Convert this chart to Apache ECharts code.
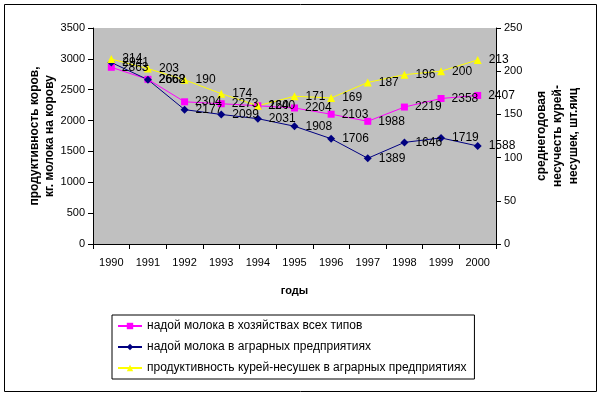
<!DOCTYPE html>
<html><head><meta charset="utf-8">
<script src="https://cdn.jsdelivr.net/npm/echarts@6/dist/echarts.min.js"></script>
<style>html,body{margin:0;padding:0;background:#fff}#c{width:601px;height:396px}</style>
</head><body><div id="c"></div>
<script>
const years = ['1990','1991','1992','1993','1994','1995','1996','1997','1998','1999','2000'];
const milkAll = [2863, 2668, 2304, 2273, 2240, 2204, 2103, 1988, 2219, 2358, 2407];
const milkAgro = [2941, 2662, 2177, 2099, 2031, 1908, 1706, 1389, 1646, 1719, 1588];
const eggs = [214, 203, 190, 174, 160, 171, 169, 187, 196, 200, 213];
const leftTicks = [0, 3500, 500];
const rightTicks = [0, 250, 50];
const names = ['надой молока в хозяйствах всех типов','надой молока в аграрных предприятиях','продуктивность курей-несушек в аграрных предприятиях'];

const F = 'Liberation Sans, Arial, sans-serif';
const chart = echarts.init(document.getElementById('c'));
const lbl = {show:true, position:'right', distance:7, color:'#000', fontFamily:F, fontSize:12};
chart.setOption({
  animation:false,
  textStyle:{fontFamily:F},
  graphic:[{type:'rect', shape:{x:4.5,y:4.5,width:592,height:387}, style:{fill:'none', stroke:'#000', lineWidth:1}, z:-1}],
  grid:{left:93, right:105, top:28, bottom:152, show:true, backgroundColor:'#C0C0C0', borderWidth:0,
    containLabel:false, outerBoundsMode:'none'},
  xAxis:{type:'category', data:years, boundaryGap:true,
    axisLine:{lineStyle:{color:'#000'}}, axisTick:{show:true, length:5, lineStyle:{color:'#000'}},
    axisLabel:{color:'#000', fontSize:11, margin:13, fontFamily:F},
    name:'годы', nameLocation:'middle', nameGap:41, nameMoveOverlap:false,
    nameTextStyle:{color:'#000', fontWeight:'bold', fontSize:11, fontFamily:F}},
  yAxis:[
    {type:'value', min:leftTicks[0], max:leftTicks[1], interval:leftTicks[2], splitLine:{show:false},
     axisLine:{show:true, lineStyle:{color:'#000'}}, axisTick:{show:true, length:5, lineStyle:{color:'#000'}},
     axisLabel:{color:'#000', fontSize:11, margin:8, fontFamily:F, formatter:v=>String(v)},
     name:'продуктивность коров,\nкг. молока на корову', nameLocation:'middle', nameRotate:90, nameGap:36,
     nameMoveOverlap:false,
     nameTextStyle:{color:'#000', fontWeight:'bold', fontSize:12, lineHeight:15, fontFamily:F}},
    {type:'value', min:rightTicks[0], max:rightTicks[1], interval:rightTicks[2], splitLine:{show:false}, position:'right',
     axisLine:{show:true, lineStyle:{color:'#000'}}, axisTick:{show:true, length:5, lineStyle:{color:'#000'}},
     axisLabel:{color:'#000', fontSize:11, margin:8, fontFamily:F, formatter:v=>String(v)},
     name:'среднегодовая\nнесучесть курей-\nнесушек, шт.яиц', nameLocation:'middle', nameRotate:90, nameGap:38,
     nameMoveOverlap:false,
     nameTextStyle:{color:'#000', fontWeight:'bold', fontSize:12, lineHeight:16, fontFamily:F}}
  ],
  legend:{orient:'vertical', left:112, top:315, width:366, padding:[5,8,5,5], itemGap:9,
    itemWidth:24, itemHeight:8, backgroundColor:'#fff', borderColor:'#000', borderWidth:1, borderRadius:0,
    textStyle:{color:'#000', fontSize:12, fontFamily:F}, data:names},
  series:[
    {name:names[0], type:'line', yAxisIndex:0, data:milkAll, symbol:'rect', symbolSize:7,
     itemStyle:{color:'#FF00FF'}, lineStyle:{color:'#FF00FF', width:1}, label:lbl},
    {name:names[1], type:'line', yAxisIndex:0, data:milkAgro, symbol:'diamond', symbolSize:8,
     itemStyle:{color:'#000080'}, lineStyle:{color:'#000080', width:1}, label:lbl},
    {name:names[2], type:'line', yAxisIndex:1, data:eggs, symbol:'triangle', symbolSize:8,
     itemStyle:{color:'#FFFF00'}, lineStyle:{color:'#FFFF00', width:1}, label:lbl}
  ]
});
</script></body></html>
